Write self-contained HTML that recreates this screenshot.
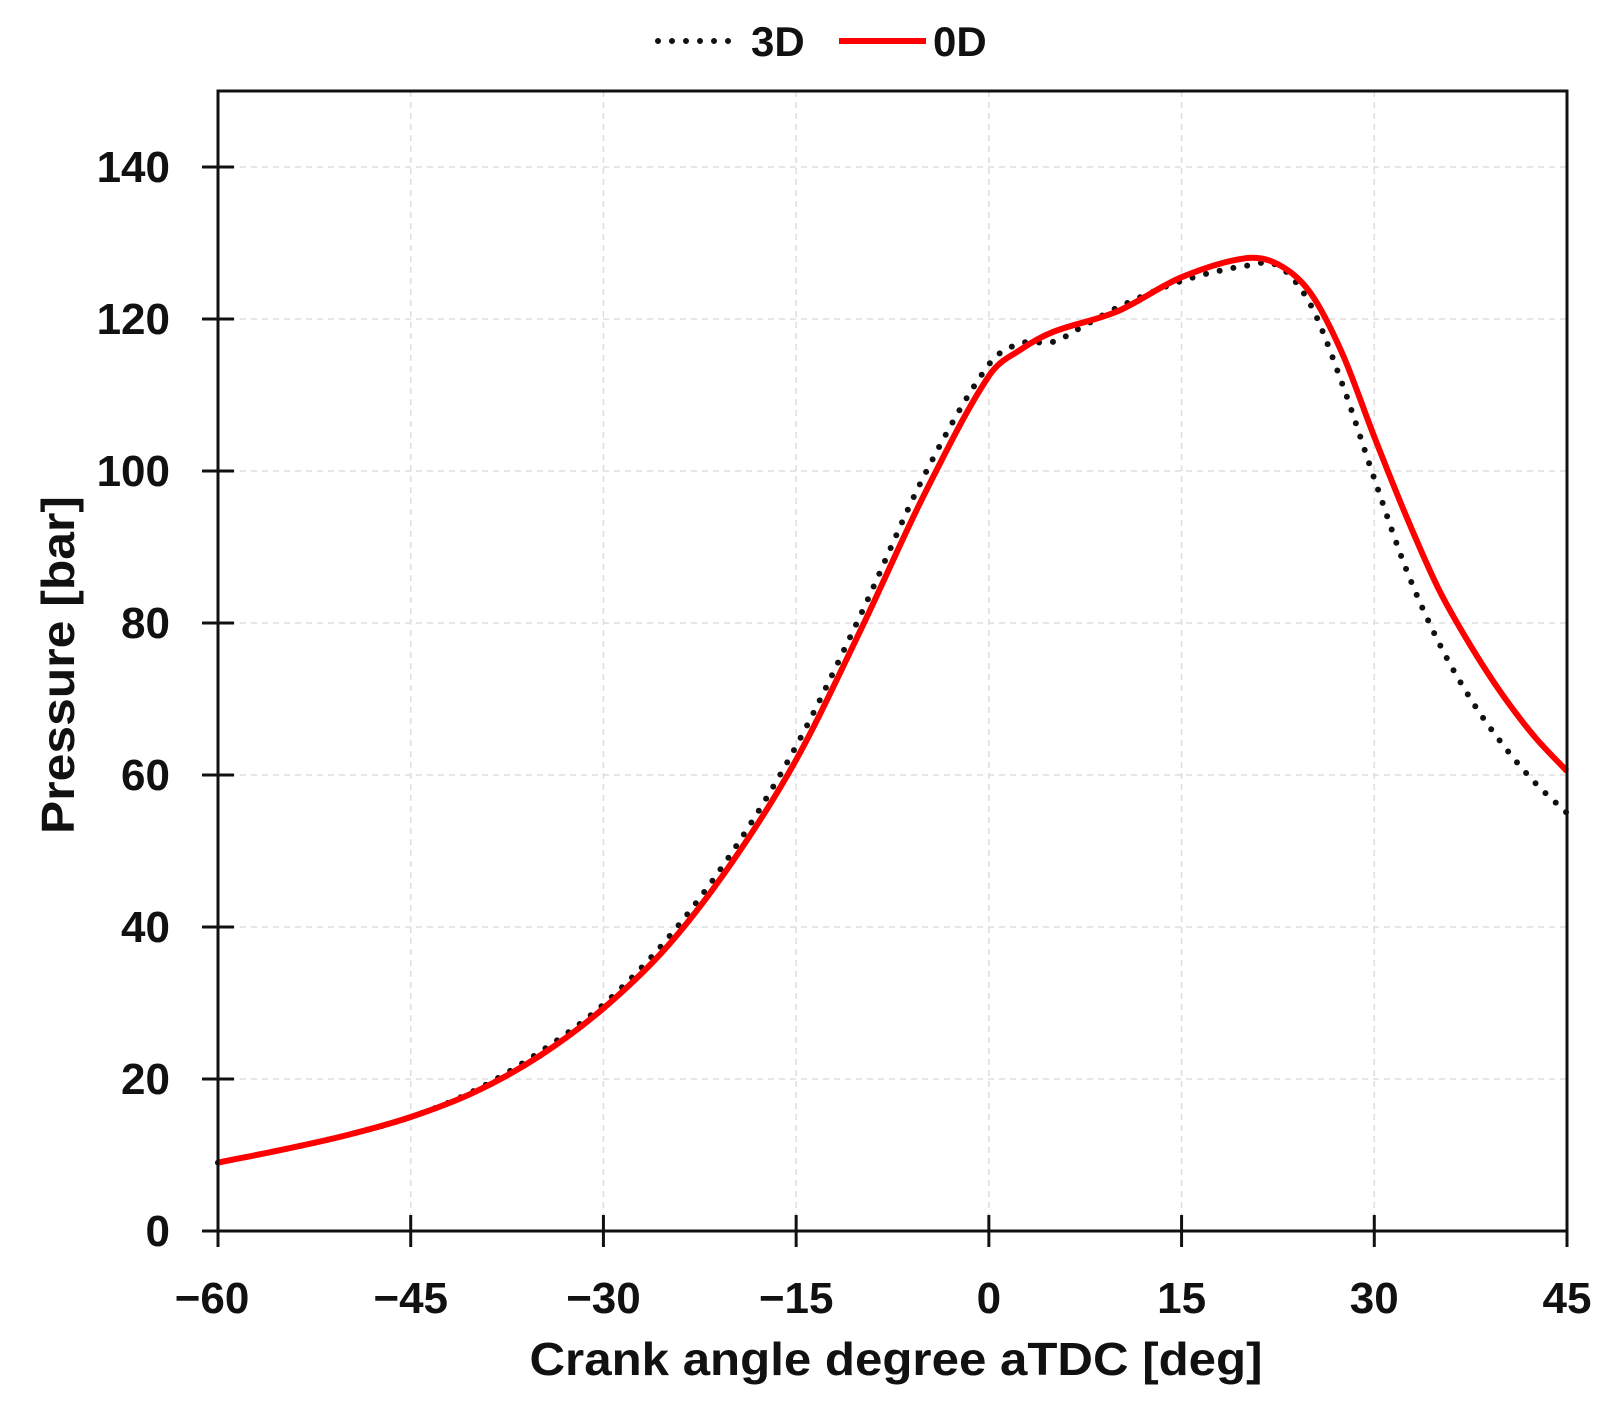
<!DOCTYPE html>
<html><head><meta charset="utf-8"><style>
html,body{margin:0;padding:0;background:#fff}
svg{display:block}
text{font-family:"Liberation Sans",sans-serif;font-weight:bold;fill:#111}
</style></head><body>
<svg id="chart" width="1611" height="1409"></svg>
<script>
const xTicks=[-60,-45,-30,-15,0,15,30,45];
const yTicks=[0,20,40,60,80,100,120,140];
const xLabels=["\u221260","\u221245","\u221230","\u221215","0","15","30","45"];
const angles0=[-60,-55,-50,-45,-40,-35,-30,-25,-20,-15,-10,-5,0,2.5,5,10,15,20,22.5,25,27.5,30,32.5,35,37.5,40,42.5,45];
const p0D=[9,10.7,12.6,15,18.3,23,29.3,37.5,48.5,62,79,97,112.5,116,118.3,121,125.5,128,127.2,123.5,115.5,104.5,94,84.5,77,70.5,65,60.5];
const angles3=[-60,-55,-50,-45,-40,-35,-30,-25,-20,-15,-10,-5,0,2.5,5,7.5,10,15,20,22.5,25,27.5,30,32.5,35,37.5,40,42.5,45];
const p3D=[9,10.7,12.6,15,18.5,23.5,29.8,38.5,49.8,63.8,81,99.5,114,116.8,117,119.2,121.5,125,127,127,122,111.5,99,87,77.5,70,64,59,55];

const NS="http://www.w3.org/2000/svg";
const svg=document.getElementById('chart');
const L=218,R=1567,T=91,B=1231;
const xS=v=>L+(v+60)/105*(R-L);
const yS=v=>B-v/150*(B-T);
function mk(tag,attrs,parent){const e=document.createElementNS(NS,tag);for(const k in attrs)e.setAttribute(k,attrs[k]);(parent||svg).appendChild(e);return e;}
xTicks.forEach((t,i)=>{
  if(i>0&&i<xTicks.length-1){const g=mk('line',{x1:xS(t),x2:xS(t),y1:T,y2:B,stroke:'#ddd','stroke-width':1.5,'stroke-dasharray':'6 5'});
  
  }
});
yTicks.forEach(t=>{
  if(t>0){const g=mk('line',{x1:L,x2:R,y1:yS(t),y2:yS(t),stroke:'#ddd','stroke-width':1.5,'stroke-dasharray':'6 5'});
  
  }
});
function pathD(xs,ys){
  const pts=xs.map((x,i)=>[xS(x),yS(ys[i])]);
  let d='M'+pts[0][0]+','+pts[0][1];
  for(let i=0;i<pts.length-1;i++){
    const p0=pts[Math.max(0,i-1)],p1=pts[i],p2=pts[i+1],p3=pts[Math.min(pts.length-1,i+2)];
    const h=p2[0]-p1[0];
    const s1=(p2[1]-p0[1])/(p2[0]-p0[0]||1), s2=(p3[1]-p1[1])/(p3[0]-p1[0]||1);
    const c1=[p1[0]+h/3,p1[1]+s1*h/3];
    const c2=[p2[0]-h/3,p2[1]-s2*h/3];
    d+=' C'+c1+' '+c2+' '+p2;
  }
  return d;
}
const s3=mk('path',{d:pathD(angles3,p3D),fill:'none',stroke:'#111','stroke-width':6,'stroke-linecap':'round','stroke-dasharray':'0 14'});


const s0=mk('path',{d:pathD(angles0,p0D),fill:'none',stroke:'#f00','stroke-width':6});


const fr=mk('rect',{x:L,y:T,width:R-L,height:B-T,fill:'none',stroke:'#111','stroke-width':3});


xTicks.forEach((t,i)=>{
  const tk=mk('line',{x1:xS(t),x2:xS(t),y1:B-16,y2:B+16,stroke:'#111','stroke-width':3});
  
  
  const lb=mk('text',{x:xS(t)-(i===0?6:0),y:1313,'text-anchor':'middle','font-size':44});
  lb.textContent=xLabels[i];
  
  
});
yTicks.forEach(t=>{
  const tk=mk('line',{x1:L-16,x2:L+16,y1:yS(t),y2:yS(t),stroke:'#111','stroke-width':3});
  
  
  const lb=mk('text',{x:170,y:yS(t)+15,'text-anchor':'end','font-size':44});
  lb.textContent=String(t);
  
  
});
const xt=mk('text',{x:896,y:1375,'text-anchor':'middle','font-size':46,textLength:733,lengthAdjust:'spacingAndGlyphs'});
xt.textContent='Crank angle degree aTDC [deg]';


const yt=mk('text',{x:0,y:0,'text-anchor':'middle','font-size':46,textLength:338,lengthAdjust:'spacingAndGlyphs',transform:'translate(74,665) rotate(-90)'});
yt.textContent='Pressure [bar]';


const lg=mk('g',{});


const l1=mk('line',{x1:658,x2:742,y1:41,y2:41,stroke:'#111','stroke-width':6,'stroke-linecap':'round','stroke-dasharray':'0 14'},lg);


const t1=mk('text',{x:751,y:56,'font-size':42},lg);t1.textContent='3D';


const l2=mk('line',{x1:839,x2:926,y1:41,y2:41,stroke:'#f00','stroke-width':6},lg);


const t2=mk('text',{x:933,y:56,'font-size':42},lg);t2.textContent='0D';


</script>
</body></html>
